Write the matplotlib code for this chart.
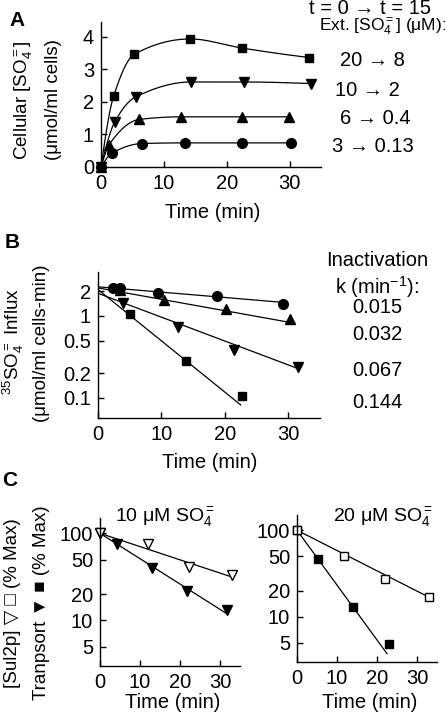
import numpy as np
import matplotlib as mpl

mpl.use("agg")
mpl.rcParams.update({
    "font.family": ["Liberation Sans", "DejaVu Sans"],
    "font.size": 14.5,
    "mathtext.fontset": "custom",
    "mathtext.rm": "Liberation Sans",
    "mathtext.it": "Liberation Sans:italic",
    "mathtext.bf": "Liberation Sans:bold",
    "axes.linewidth": 1.0,
    "xtick.direction": "in",
    "ytick.direction": "in",
    "xtick.major.size": 4,
    "ytick.major.size": 4,
    "xtick.major.pad": 5,
    "ytick.major.pad": 5,
})
import matplotlib.pyplot as plt
from matplotlib.ticker import FixedLocator, NullLocator, FixedFormatter

# ---- Panel A: cellular sulfate accumulation ----
a_sq_t = [0, 2.0, 5.3, 14.2, 22.4, 33.1]
a_sq_y = [0, 2.17, 3.46, 3.93, 3.65, 3.36]
a_dn_t = [0, 2.2, 5.5, 14.3, 22.7, 33.4]
a_dn_y = [0, 1.39, 2.15, 2.61, 2.61, 2.56]
a_up_t = [0, 1.3, 6.1, 12.8, 22.4, 29.9]
a_up_y = [0, 0.69, 1.46, 1.54, 1.54, 1.54]
a_ci_t = [0, 1.7, 6.5, 13.3, 22.4, 30.2]
a_ci_y = [0, 0.42, 0.72, 0.74, 0.74, 0.74]
a_labels = ["20 \u2192 8", "10 \u2192 2", "6 \u2192 0.4", "3 \u2192 0.13"]

# ---- Panel B: 35SO4 influx decay ----
b_ci_t = [2.4, 3.4, 9.4, 18.7, 29.1]
b_ci_y = [2.2, 2.2, 1.89, 1.75, 1.41]
b_up_t = [3.5, 10.4, 20.2, 30.2]
b_up_y = [2.1, 1.57, 1.22, 0.91]
b_dn_t = [3.95, 12.6, 21.5, 31.5]
b_dn_y = [1.44, 0.73, 0.39, 0.24]
b_sq_t = [5.05, 13.8, 22.7]
b_sq_y = [1.07, 0.28, 0.107]
b_k = [0.015, 0.032, 0.067, 0.144]
b_fit_a0 = [2.27, 2.2, 1.89, 2.1]
b_fit_end = [29.1, 30.5, 31.5, 22.5]

# ---- Panel C: Sul2p vs transport ----
c10_open_t = [0, 12.1, 22.3, 32.9]
c10_open_y = [100, 76, 41, 33.5]
c10_fill_t = [0, 4.2, 12.9, 21.8, 31.7]
c10_fill_y = [100, 75, 39.5, 22, 13.2]
c20_open_t = [0, 11.8, 22.0, 33.0]
c20_open_y = [100, 50, 27.5, 17]
c20_fill_t = [0, 5.3, 14.0, 22.9]
c20_fill_y = [100, 47, 13, 4.9]
c10_k = [0.035, 0.067]
c10_end = [33, 32]
c20_k = [0.054, 0.146]
c20_end = [33, 22.5]

W, H = 447, 722


def pchip(x, y, xs):
    x = np.asarray(x, float); y = np.asarray(y, float)
    h = np.diff(x); d = np.diff(y) / h
    n = len(x)
    m = np.zeros(n)
    for k in range(1, n - 1):
        if d[k - 1] * d[k] > 0:
            w1 = 2 * h[k] + h[k - 1]
            w2 = h[k] + 2 * h[k - 1]
            m[k] = (w1 + w2) / (w1 / d[k - 1] + w2 / d[k])
    m[0] = ((2 * h[0] + h[1]) * d[0] - h[0] * d[1]) / (h[0] + h[1])
    if np.sign(m[0]) != np.sign(d[0]):
        m[0] = 0
    m[-1] = ((2 * h[-1] + h[-2]) * d[-1] - h[-1] * d[-2]) / (h[-1] + h[-2])
    if np.sign(m[-1]) != np.sign(d[-1]):
        m[-1] = 0
    out = np.empty_like(xs)
    for i, t in enumerate(xs):
        k = min(np.searchsorted(x, t, side="right") - 1, n - 2)
        s = (t - x[k]) / h[k]
        h00 = 2 * s**3 - 3 * s**2 + 1
        h10 = s**3 - 2 * s**2 + s
        h01 = -2 * s**3 + 3 * s**2
        h11 = s**3 - s**2
        out[i] = h00 * y[k] + h10 * h[k] * m[k] + h01 * y[k + 1] + h11 * h[k] * m[k + 1]
    return out


def axes_px(fig, left, top, right, bottom):
    return fig.add_axes([left / W, 1 - bottom / H, (right - left) / W, (bottom - top) / H])


def ftext(fig, x, y, s, **kw):
    kw.setdefault("ha", "center")
    kw.setdefault("va", "center")
    fig.text(x / W, 1 - y / H, s, **kw)


def style(ax):
    for side in ("top", "right"):
        ax.spines[side].set_visible(False)
    ax.tick_params(width=1.0, length=4)


mk = dict(color="black", lw=0.9, clip_on=False, markeredgecolor="black")

fig = plt.figure(figsize=(W / 100, H / 100), dpi=100)

# Panel A
ax = axes_px(fig, 101, 22, 321, 167)
style(ax)
series = [(a_sq_t, a_sq_y, "s", 5.5), (a_dn_t, a_dn_y, "v", 6.5),
          (a_up_t, a_up_y, "^", 6.5), (a_ci_t, a_ci_y, "o", 7)]
for t, y, m, ms in series:
    tt = np.linspace(t[0], t[-1], 300)
    ax.plot(tt, pchip(t, y, tt), color="black", lw=0.9)
    ax.plot(t, y, m, ms=ms, **mk)
ax.set_xlim(0, 35)
ax.set_ylim(0, 4.45)
ax.set_xticks([0, 10, 20, 30])
ax.set_yticks([0, 1, 2, 3, 4])
ftext(fig, 17, 20, "A", fontweight="bold", fontsize=15)
ftext(fig, 24, 100, "Cellular [SO$_4^=$]", rotation=90, fontsize=13.5)
ftext(fig, 54, 100, "(\u03bcmol/ml cells)", rotation=90, fontsize=13.5)
ftext(fig, 213, 212, "Time (min)")
ftext(fig, 370, 9, "t = 0 \u2192 t = 15")
ftext(fig, 446, 27, "Ext. [SO$_4^=$] (\u03bcM):", ha="right", fontsize=12.5)
for lab, (x, y) in zip(a_labels, [(372, 60), (367, 90), (375, 119), (373, 146)]):
    ftext(fig, x, y, lab)

# Panel B
ax = axes_px(fig, 98, 272, 320, 418)
style(ax)
ax.set_yscale("log")
b_series = [(b_ci_t, b_ci_y, "o", 7), (b_up_t, b_up_y, "^", 6.5),
            (b_dn_t, b_dn_y, "v", 6.5), (b_sq_t, b_sq_y, "s", 5.5)]
for (t, y, m, ms), k, a0, te in zip(b_series, b_k, b_fit_a0, b_fit_end):
    tt = np.linspace(0, te, 50)
    ax.plot(tt, a0 * np.exp(-k * tt), color="black", lw=0.9)
    ax.plot(t, y, m, ms=ms, **mk)
ax.set_xlim(0, 35)
ax.set_ylim(0.057, 3.44)
ax.set_xticks([0, 10, 20, 30])
ax.yaxis.set_major_locator(FixedLocator([0.1, 0.2, 0.5, 1, 2]))
ax.yaxis.set_major_formatter(FixedFormatter(["0.1", "0.2", "0.5", "1", "2"]))
ax.yaxis.set_minor_locator(NullLocator())
ftext(fig, 12, 243, "B", fontweight="bold", fontsize=15)
ftext(fig, 13, 342, "$^{35}$SO$_4^=$ Influx", rotation=90, fontsize=13.5)
ftext(fig, 42, 343, "(\u03bcmol/ml cells-min)", rotation=90, fontsize=13.5)
ftext(fig, 210, 462, "Time (min)")
ftext(fig, 377, 260, "Inactivation")
ftext(fig, 377, 287, "k (min$^{-1}$):")
for k, y in zip(b_k, [308, 335, 370, 403]):
    ftext(fig, 377, y, f"{k:.3f}")

# Panel C
def panel_c(ax, open_t, open_y, fill_t, fill_y, ks, ends, m_open, m_fill):
    style(ax)
    ax.set_yscale("log")
    for k, te in zip(ks, ends):
        tt = np.linspace(0, te, 50)
        ax.plot(tt, 100 * np.exp(-k * tt), color="black", lw=0.9)
    ax.plot(fill_t, fill_y, m_fill, ms=6.5 if m_fill == "v" else 5.5, **mk)
    ax.plot(open_t, open_y, m_open, ms=6.5 if m_open == "v" else 5.5,
            markerfacecolor="white", **mk)
    ax.set_xlim(0, 35)
    ax.set_ylim(3.0, 150)
    ax.set_xticks([0, 10, 20, 30])
    ax.yaxis.set_major_locator(FixedLocator([5, 10, 20, 50, 100]))
    ax.yaxis.set_major_formatter(FixedFormatter(["5", "10", "20", "50", "100"]))
    ax.yaxis.set_minor_locator(NullLocator())


ax = axes_px(fig, 100, 518, 240, 666)
panel_c(ax, c10_open_t, c10_open_y, c10_fill_t, c10_fill_y, c10_k, c10_end, "v", "v")
ax = axes_px(fig, 297, 515, 437, 662)
panel_c(ax, c20_open_t, c20_open_y, c20_fill_t, c20_fill_y, c20_k, c20_end, "s", "s")

ftext(fig, 10, 480, "C", fontweight="bold", fontsize=15)
ftext(fig, 165, 518, "10 \u03bcM SO$_4^=$", fontsize=14)
ftext(fig, 383, 518, "20 \u03bcM SO$_4^=$", fontsize=14)
ftext(fig, 173, 703, "Time (min)")
ftext(fig, 370, 703, "Time (min)")
ftext(fig, 13, 603, "[Sul2p] \u25bd \u25a1 (% Max)", rotation=90, fontsize=13.5)
ftext(fig, 42, 603, "Tranpsort \u25bc \u25a0 (% Max)", rotation=90, fontsize=13.5)

fig.savefig("out.png", dpi=100)
